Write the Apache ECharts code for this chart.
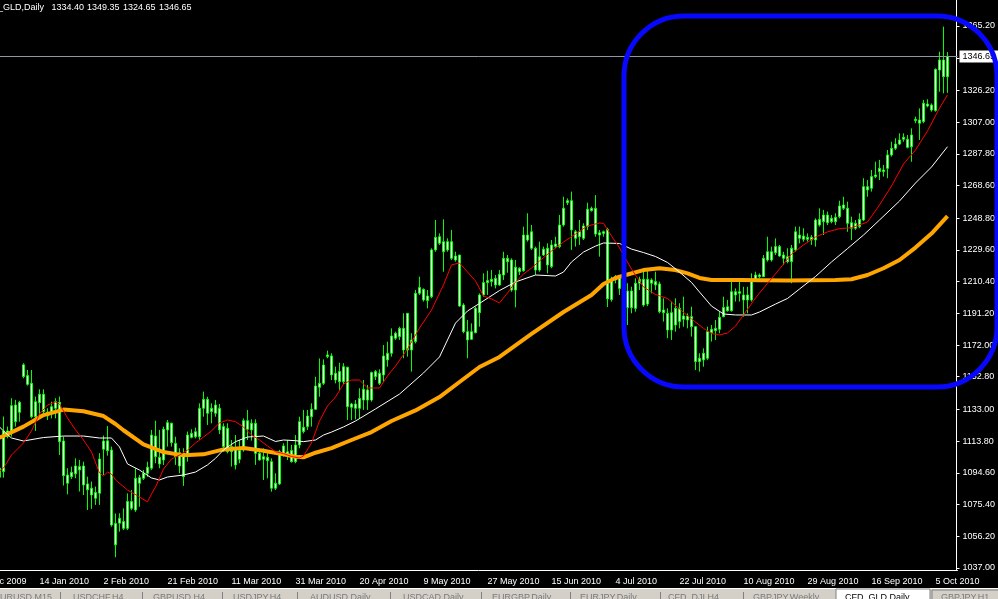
<!DOCTYPE html>
<html><head><meta charset="utf-8">
<script src="https://cdn.jsdelivr.net/npm/echarts@6/dist/echarts.min.js"></script>
<style>html,body{margin:0;padding:0;background:#000;overflow:hidden}#c{width:998px;height:599px}</style>
</head><body><div id="c"></div>
<script>
// ---------------- DATA ----------------
const symbolName = 'CFD_GLD,Daily';
const lastQuote = ['1334.40', '1349.35', '1324.65', '1346.65'];
const lastClose = 1346.65;
// x-axis date labels, one every 16 bars starting at bar -7
const tickLabels = ['24 Dec 2009', '14 Jan 2010', '2 Feb 2010', '21 Feb 2010', '11 Mar 2010', '31 Mar 2010',
  '20 Apr 2010', '9 May 2010', '27 May 2010', '15 Jun 2010', '4 Jul 2010', '22 Jul 2010',
  '10 Aug 2010', '29 Aug 2010', '16 Sep 2010', '5 Oct 2010'];
// y-axis price labels
const yTickLabels = ['1037.00', '1056.20', '1075.40', '1094.60', '1113.80', '1133.00', '1152.80', '1172.00',
  '1191.20', '1210.40', '1229.60', '1248.80', '1268.60', '1287.80', '1307.00', '1326.20', '1345.40', '1365.20'];
// daily bars, bar -1 .. 236 : [open, high, low, close]
const ohlc = [
[1097.5,1099.0,1090.0,1092.0],
[1120.0,1128.7,1091.7,1095.4],[1120.0,1122.6,1115.5,1116.6],[1135.3,1139.8,1116.6,1119.2],[1135.7,1138.8,1122.6,1125.6],[1137.3,1138.2,1125.6,1131.3],
[1160.0,1161.0,1151.9,1152.9],[1153.5,1156.9,1147.4,1148.2],[1148.8,1156.9,1127.6,1128.6],[1137.7,1140.8,1120.0,1128.6],[1142.2,1145.2,1127.6,1137.1],
[1142.2,1145.2,1128.6,1131.7],[1131.3,1133.7,1126.6,1129.1],[1134.7,1137.7,1127.6,1131.3],[1137.7,1139.8,1127.6,1133.7],[1137.3,1140.8,1105.4,1113.5],
[1113.9,1116.6,1086.9,1092.9],[1093.3,1097.4,1081.6,1088.3],[1094.9,1098.4,1090.9,1092.3],[1098.8,1103.4,1091.3,1094.0],[1098.4,1102.4,1083.3,1096.4],
[1098.8,1101.4,1081.2,1087.3],[1087.9,1092.3,1072.1,1084.3],[1085.3,1089.3,1072.8,1081.2],[1082.7,1086.3,1075.2,1079.2],[1103.0,1106.5,1075.2,1082.3],
[1113.9,1117.2,1093.3,1108.9],[1114.0,1123.0,1105.0,1108.0],[1108.4,1110.5,1062.0,1063.0],[1064.0,1070.0,1043.5,1051.0],[1067.1,1070.1,1059.0,1064.1],
[1065.1,1073.1,1060.0,1061.0],[1077.2,1082.2,1060.0,1061.0],[1077.2,1084.2,1072.0,1073.1],[1091.3,1097.4,1071.0,1072.1],[1091.7,1093.3,1074.1,1088.3],
[1094.3,1096.3,1090.3,1091.3],[1098.0,1101.4,1092.3,1094.3],[1117.5,1120.6,1096.4,1097.4],[1116.9,1126.2,1100.4,1104.4],[1104.0,1120.6,1097.4,1100.0],
[1121.0,1122.6,1099.4,1102.4],[1125.0,1126.6,1110.5,1120.6],[1124.6,1125.0,1110.5,1112.9],[1112.5,1116.5,1099.4,1104.4],[1106.8,1109.5,1094.3,1098.8],
[1106.4,1109.5,1086.7,1092.3],[1117.5,1119.6,1101.4,1105.4],[1118.5,1121.0,1115.5,1116.1],[1119.5,1122.0,1115.5,1116.5],[1133.7,1136.7,1114.5,1116.5],
[1139.1,1143.8,1128.6,1133.7],[1139.1,1140.7,1123.6,1130.7],[1133.7,1136.7,1124.6,1131.7],[1135.7,1138.7,1128.6,1130.7],[1133.7,1136.3,1118.1,1120.6],
[1122.6,1124.6,1107.4,1110.5],[1121.6,1124.6,1106.4,1107.4],[1110.5,1114.5,1098.4,1107.4],[1109.5,1117.5,1096.7,1099.4],[1108.1,1114.5,1100.4,1102.8],
[1126.2,1127.6,1107.4,1108.5],[1126.2,1132.7,1114.5,1121.0],[1124.6,1127.0,1114.1,1120.6],[1124.6,1127.0,1099.4,1106.4],[1106.4,1107.4,1102.0,1102.4],
[1104.4,1109.5,1090.3,1102.8],[1104.0,1107.4,1091.3,1102.0],[1101.4,1103.4,1083.2,1085.3],[1088.3,1094.3,1084.2,1085.3],[1107.4,1108.5,1087.3,1087.9],
[1110.9,1112.5,1104.4,1105.4],[1107.4,1114.5,1102.4,1105.4],[1108.1,1111.5,1100.8,1101.4],[1111.5,1117.5,1100.4,1101.4],[1125.6,1128.6,1109.5,1111.5],
[1122.2,1132.7,1118.5,1119.6],[1129.0,1132.7,1120.6,1122.6],[1133.1,1136.7,1122.6,1128.6],[1147.2,1152.8,1132.7,1133.1],[1148.8,1163.9,1140.7,1146.4],
[1159.9,1163.3,1147.8,1148.8],[1166.0,1168.6,1164.0,1165.0],[1165.4,1167.0,1150.8,1153.9],[1154.9,1158.9,1148.8,1150.8],[1155.9,1161.3,1144.8,1149.8],
[1158.9,1161.0,1148.4,1149.8],[1158.5,1158.9,1126.6,1134.7],[1136.3,1137.0,1126.6,1134.3],[1136.3,1138.7,1127.0,1133.7],[1139.7,1145.8,1127.6,1133.7],
[1145.2,1150.8,1132.7,1138.7],[1144.8,1147.8,1132.7,1138.7],[1155.3,1155.9,1137.7,1138.7],[1155.9,1156.9,1150.8,1152.9],[1154.9,1157.3,1147.8,1148.8],
[1165.4,1172.0,1149.8,1153.9],[1167.0,1174.0,1158.9,1163.0],[1177.5,1182.1,1165.0,1167.0],[1179.1,1180.1,1175.1,1176.1],[1182.1,1183.1,1175.1,1177.1],
[1182.1,1191.2,1164.0,1169.0],[1191.2,1191.2,1165.0,1169.0],[1175.1,1179.1,1155.9,1169.0],[1203.3,1205.3,1173.0,1174.1],[1206.9,1213.4,1202.3,1203.3],
[1205.7,1206.3,1198.3,1199.3],[1201.7,1205.3,1194.2,1198.9],[1229.6,1230.6,1200.3,1201.3],[1237.2,1247.7,1228.5,1229.6],[1237.6,1239.6,1232.6,1233.6],
[1234.6,1248.1,1216.4,1228.5],[1234.6,1236.6,1228.5,1229.6],[1234.6,1241.7,1223.5,1224.5],[1225.9,1228.5,1222.5,1223.5],[1226.5,1226.5,1195.2,1195.6],
[1196.2,1197.3,1179.1,1180.1],[1180.1,1187.2,1164.0,1175.1],[1180.1,1185.1,1175.1,1175.5],[1194.2,1195.2,1179.1,1179.5],[1202.3,1203.3,1183.1,1191.6],
[1209.8,1215.4,1201.3,1202.3],[1211.0,1217.0,1202.3,1209.8],[1211.8,1217.4,1207.4,1210.4],[1212.4,1214.4,1206.3,1208.4],[1214.8,1217.4,1207.8,1208.4],
[1224.5,1228.5,1211.4,1214.4],[1224.5,1226.5,1215.8,1222.5],[1223.5,1224.5,1204.3,1205.3],[1219.1,1223.5,1194.8,1205.3],[1218.5,1219.1,1214.4,1216.4],
[1238.6,1243.7,1216.4,1217.0],[1238.6,1251.8,1234.6,1235.6],[1240.6,1244.7,1229.6,1230.6],[1230.6,1231.6,1214.4,1217.4],[1225.5,1234.6,1216.4,1217.4],
[1230.0,1231.6,1225.9,1226.5],[1230.6,1233.6,1215.4,1220.5],[1232.6,1235.6,1218.5,1219.5],[1233.2,1237.6,1230.6,1231.6],[1244.7,1250.8,1230.6,1231.6],
[1254.8,1261.8,1243.7,1244.7],[1259.4,1260.8,1256.8,1258.2],[1259.4,1264.9,1229.6,1241.7],[1240.6,1241.7,1231.6,1236.6],[1240.6,1247.7,1232.6,1237.6],
[1244.1,1245.7,1235.6,1236.6],[1254.2,1258.2,1241.7,1243.7],[1254.8,1255.8,1252.8,1253.4],[1254.8,1262.8,1237.6,1239.2],[1240.0,1241.7,1225.5,1238.6],
[1240.6,1241.3,1237.6,1239.6],[1242.0,1243.0,1195.0,1200.0],[1211.0,1213.4,1198.3,1199.5],[1213.4,1214.4,1209.4,1211.4],[1212.4,1213.4,1202.3,1206.3],
[1207.0,1209.0,1197.0,1201.0],[1204.7,1209.4,1184.1,1194.6],[1204.7,1207.3,1191.2,1194.6],[1209.4,1212.4,1192.2,1194.2],[1211.8,1213.4,1205.3,1209.4],
[1211.8,1216.4,1195.2,1196.2],[1211.8,1217.0,1195.6,1196.8],[1211.4,1212.4,1203.3,1209.4],[1210.4,1216.4,1205.3,1208.4],[1209.0,1210.4,1191.2,1192.2],
[1193.2,1200.3,1186.2,1191.6],[1191.2,1194.2,1176.1,1181.1],[1191.6,1198.3,1175.1,1181.1],[1194.2,1200.3,1180.1,1184.1],[1194.2,1197.3,1182.1,1186.2],
[1189.6,1201.3,1183.1,1187.6],[1189.6,1191.2,1182.1,1187.2],[1189.2,1195.2,1177.1,1183.1],[1183.1,1183.1,1156.9,1162.0],[1164.0,1167.0,1155.9,1162.0],
[1167.0,1170.0,1158.9,1163.0],[1180.1,1183.1,1163.0,1164.0],[1181.5,1184.1,1174.1,1179.5],[1182.1,1187.2,1175.1,1180.7],[1188.8,1192.2,1179.1,1181.5],
[1194.8,1201.3,1188.8,1189.2],[1195.2,1199.3,1192.2,1192.8],[1204.3,1211.4,1192.2,1192.8],[1204.3,1206.3,1198.3,1202.3],[1204.3,1210.4,1198.3,1203.3],
[1202.3,1207.3,1189.2,1199.3],[1202.3,1207.3,1191.2,1199.3],[1211.4,1215.4,1198.3,1199.3],[1214.4,1216.4,1210.4,1211.4],[1214.4,1215.4,1212.4,1213.4],
[1224.5,1226.5,1213.4,1213.4],[1228.5,1237.6,1222.5,1223.5],[1228.5,1231.6,1222.5,1223.5],[1231.6,1236.6,1226.5,1227.9],[1231.6,1232.6,1225.5,1225.9],
[1226.5,1228.5,1220.5,1224.5],[1225.5,1230.6,1221.5,1222.5],[1230.6,1232.6,1209.4,1222.5],[1240.6,1243.7,1228.5,1229.6],[1238.6,1243.7,1233.6,1236.6],
[1238.0,1242.7,1234.6,1236.0],[1237.2,1239.6,1234.6,1236.0],[1237.2,1238.6,1232.6,1235.6],[1247.7,1248.7,1231.6,1235.6],[1248.1,1254.8,1243.7,1244.7],
[1250.7,1253.8,1238.6,1246.7],[1250.7,1252.8,1244.7,1246.1],[1248.7,1250.7,1245.7,1246.7],[1249.3,1251.8,1244.7,1246.7],[1256.2,1259.4,1248.7,1249.7],
[1256.8,1261.8,1253.8,1254.8],[1254.8,1258.8,1240.6,1245.7],[1246.1,1249.7,1235.6,1242.7],[1245.7,1247.7,1241.7,1242.7],[1248.1,1251.8,1242.7,1243.7],
[1267.9,1273.0,1247.0,1247.7],[1267.9,1271.9,1261.8,1265.9],[1274.0,1278.0,1264.9,1266.9],[1275.0,1283.0,1273.0,1274.0],[1279.0,1284.1,1271.9,1277.0],
[1278.0,1281.0,1274.0,1277.0],[1287.1,1290.1,1273.0,1279.0],[1291.1,1295.1,1286.1,1287.1],[1293.7,1297.2,1290.1,1291.1],[1296.2,1300.2,1293.1,1293.7],
[1297.8,1300.2,1295.1,1296.6],[1296.6,1299.2,1291.1,1291.7],[1299.2,1303.2,1283.0,1292.1],[1308.7,1310.3,1306.3,1307.9],[1308.3,1315.3,1296.2,1306.3],
[1318.4,1320.4,1306.3,1307.3],[1317.9,1320.8,1315.9,1316.7],[1317.3,1318.3,1313.3,1314.3],[1338.9,1339.5,1313.3,1314.0],[1344.6,1349.6,1325.4,1338.5],
[1344.6,1364.8,1324.4,1334.5],[1334.40,1349.35,1324.65,1346.65]
];
// moving averages: [bar, value]
const maFast = [[-1,1095.5],[0,1097.5],[2,1105.4],[5,1112.7],[7,1120.0],[9,1130.3],[11,1135.7],[13,1137.5],[14,1136.3],[16,1127.8],[18,1120.6],[20,1114.5],[22,1107.2],[24,1094.5],[25,1092.7],[26,1095.1],[27,1093.9],[28,1090.3],[31,1084.2],[34,1080.0],[36,1077.0],[37,1081.8],[38,1086.0],[40,1096.9],[42,1103.0],[44,1105.4],[46,1108.4],[48,1112.7],[50,1116.3],[52,1120.0],[54,1124.8],[56,1126.6],[58,1125.6],[60,1122.4],[62,1117.5],[64,1114.5],[66,1110.9],[68,1107.4],[70,1106.3],[72,1104.5],[74,1103.6],[75,1104.8],[77,1112.7],[79,1126.0],[81,1135.1],[83,1140.5],[85,1148.4],[87,1150.8],[89,1150.8],[91,1146.0],[94,1146.0],[96,1153.3],[98,1159.3],[101,1169.6],[104,1182.3],[107,1193.2],[110,1208.4],[112,1220.5],[114,1221.7],[116,1216.2],[118,1210.8],[120,1201.7],[122,1199.9],[124,1197.5],[126,1203.5],[128,1210.2],[130,1215.0],[132,1218.6],[134,1222.9],[137,1228.9],[140,1234.4],[143,1239.2],[146,1244.1],[149,1245.9],[150,1245.7],[152,1238.0],[154,1230.8],[157,1218.0],[160,1207.1],[163,1202.6],[166,1200.2],[169,1193.8],[172,1187.8],[175,1182.1],[177,1179.0],[179,1178.1],[181,1179.3],[183,1183.5],[185,1190.2],[188,1200.5],[191,1209.4],[194,1218.0],[197,1227.1],[200,1232.6],[203,1237.4],[206,1240.5],[209,1242.5],[212,1243.0],[216,1246.5],[219,1256.8],[222,1268.3],[225,1281.6],[228,1290.1],[231,1301.6],[234,1315.5],[236,1323.4]];
const maMid = [[-1,1122.4],[0,1120.0],[2,1115.7],[5,1113.9],[10,1116.0],[15,1116.9],[20,1116.9],[24,1115.7],[27,1115.7],[29,1110.3],[31,1100.0],[34,1096.3],[37,1091.5],[39,1090.3],[41,1092.1],[45,1093.3],[48,1095.1],[51,1099.4],[53,1103.4],[55,1108.5],[58,1113.5],[61,1116.3],[65,1116.9],[68,1113.6],[70,1114.5],[73,1114.1],[75,1113.5],[78,1114.5],[80,1117.5],[82,1119.3],[85,1122.4],[88,1126.0],[93,1133.3],[99,1142.3],[105,1155.1],[109,1164.8],[113,1185.3],[116,1192.6],[119,1197.2],[124,1205.0],[128,1210.2],[133,1214.4],[138,1213.8],[140,1216.2],[142,1222.3],[145,1228.3],[148,1231.9],[150,1233.8],[154,1233.5],[157,1230.1],[160,1228.0],[163,1225.6],[166,1222.0],[169,1216.2],[172,1209.9],[174,1204.1],[177,1195.6],[180,1190.8],[183,1190.2],[187,1190.2],[189,1192.0],[193,1196.8],[196,1200.2],[199,1205.9],[203,1213.5],[207,1222.3],[211,1230.4],[215,1238.6],[219,1247.7],[224,1259.2],[228,1270.1],[232,1279.8],[236,1292.1]];
const maSlow = [[-1,1116.0],[0,1116.9],[5,1122.6],[10,1129.6],[15,1132.9],[20,1131.9],[25,1129.0],[28,1124.2],[30,1120.4],[35,1111.8],[40,1107.2],[45,1105.2],[50,1105.8],[55,1108.8],[60,1109.6],[65,1108.0],[70,1105.8],[73,1104.4],[75,1104.0],[78,1106.8],[82,1109.6],[87,1114.5],[92,1119.3],[97,1126.0],[103,1132.4],[109,1140.5],[114,1149.6],[119,1158.7],[124,1164.8],[132,1178.7],[140,1192.0],[147,1202.3],[150,1208.9],[153,1212.6],[156,1214.7],[160,1217.4],[164,1218.5],[168,1217.4],[171,1215.4],[174,1212.6],[177,1211.4],[184,1211.4],[196,1211.0],[208,1211.4],[212,1211.8],[216,1214.4],[220,1218.5],[224,1223.5],[228,1231.0],[232,1239.5],[236,1250.1]];
// terminal tabs at the bottom
const tabNames = ['EURUSD,M15', 'USDCHF,H4', 'GBPUSD,H4', 'USDJPY,H4', 'AUDUSD,Daily', 'USDCAD,Daily',
  'EURGBP,Daily', 'EURJPY,Daily', 'CFD_DJI,H4', 'GBPJPY,Weekly', 'CFD_GLD,Daily', 'GBPJPY,H1'];
const activeTab = 'CFD_GLD,Daily';

// ---------------- LAYOUT ----------------
const FONT = '"Liberation Sans", Arial, sans-serif';
const FS = 9;
const LEAD = 8;            // empty category slots before bar 0
const FIRST_OHLC_BAR = -1; // bar index of ohlc[0]
const FIRST_LABEL_BAR = -7, LABEL_STEP = 16;
const N = LEAD + 239;      // slots up to bar 238 (right shift)
const categories = Array.from({length: N}, (_, j) => String(j - LEAD));
const labelAt = {};
tickLabels.forEach((t, k) => { labelAt[LEAD + FIRST_LABEL_BAR + k * LABEL_STEP] = t; });
const candleData = categories.map((_, j) => {
  const r = ohlc[j - LEAD - FIRST_OHLC_BAR];
  return r ? [r[0], r[3], r[2], r[1]] : ['-', '-', '-', '-'];
});
const toXY = arr => arr.map(p => [p[0] + LEAD, p[1]]);
const tabX = [-6, 73, 153, 233, 310, 403, 492, 580, 668, 753, 845, 941];
const sepX = [60, 142, 222, 297, 390, 481, 570, 660, 743];

const chart = echarts.init(document.getElementById('c'), null, {renderer: 'canvas'});
const graphics = [
  {type: 'text', x: 44, y: 3, z: 100, style: {text: symbolName, fill: '#fff', fontSize: FS, fontFamily: FONT, align: 'right', verticalAlign: 'top'}},
  ...lastQuote.map((q, k) => ({type: 'text', x: [51.5, 87, 123, 159][k], y: 3, z: 100,
    style: {text: q, fill: '#fff', fontSize: FS, fontFamily: FONT, verticalAlign: 'top'}})),
  {type: 'rect', z: 120, shape: {x: 624, y: 16, width: 373, height: 371, r: 60},
    style: {fill: 'none', stroke: '#0808ff', lineWidth: 5}},
  {type: 'rect', z: 110, shape: {x: 0, y: 588, width: 998, height: 11}, style: {fill: '#d4d0c8'}},
  {type: 'line', z: 111, shape: {x1: 0, y1: 588.5, x2: 998, y2: 588.5}, style: {stroke: '#ffffff', lineWidth: 1}},
  {type: 'rect', z: 111, shape: {x: 836, y: 589, width: 94, height: 11}, style: {fill: '#ffffff', stroke: '#808080', lineWidth: 1}},
  {type: 'rect', z: 111, shape: {x: 932, y: 590, width: 70, height: 10}, style: {fill: '#d4d0c8', stroke: '#808080', lineWidth: 1}},
  ...sepX.map(x => ({type: 'line', z: 112, shape: {x1: x + 0.5, y1: 592, x2: x + 0.5, y2: 599}, style: {stroke: '#808080', lineWidth: 1}})),
  ...tabNames.map((t, k) => ({type: 'text', z: 113, x: tabX[k], y: 593,
    style: {text: t, fill: t === activeTab ? '#000' : '#7a7a7a', fontSize: FS, fontFamily: FONT, verticalAlign: 'top'}}))
];

chart.setOption({
  backgroundColor: '#000',
  animation: false,
  grid: {left: -30.5, top: 0, width: 4 * N, height: 570, containLabel: false, outerBoundsMode: 'none'},
  xAxis: {
    type: 'category', data: categories, boundaryGap: true,
    axisLine: {lineStyle: {color: '#fff', width: 1}},
    axisTick: {alignWithLabel: true, length: 4, lineStyle: {color: '#fff'}, interval: i => labelAt[i] !== undefined},
    axisLabel: {interval: i => labelAt[i] !== undefined, formatter: (v, i) => labelAt[i] || '',
      color: '#fff', fontSize: FS, fontFamily: FONT, align: 'left', margin: 7},
    splitLine: {show: false}
  },
  yAxis: {
    type: 'value', position: 'right', offset: -1,
    min: 1035.78, max: 1380.92, scale: true,
    axisLine: {show: true, lineStyle: {color: '#fff', width: 1}},
    axisTick: {show: true, length: 3, inside: false, lineStyle: {color: '#fff'}, customValues: yTickLabels.map(Number)},
    axisLabel: {color: '#fff', fontSize: FS, fontFamily: FONT, margin: 6, customValues: yTickLabels.map(Number),
      formatter: v => v.toFixed(2)},
    splitLine: {show: false}
  },
  graphic: graphics,
  series: [
    {
      type: 'candlestick', name: 'GLD', data: candleData, barWidth: 3, z: 2,
      itemStyle: {color: '#ffffff', color0: '#ffffff', borderColor: '#00ff00', borderColor0: '#00ff00', borderWidth: 1},
      markLine: {
        silent: true, symbol: ['none', 'none'], animation: false,
        lineStyle: {color: '#8f98a6', width: 1, type: 'solid'},
        label: {show: true, position: 'end', distance: 2, formatter: lastQuote[3], color: '#000', backgroundColor: '#fff',
          padding: [2, 6, 1, 3], fontSize: FS, fontFamily: FONT},
        data: [{yAxis: lastClose}]
      }
    },
    {type: 'line', name: 'MA slow', data: toXY(maSlow), showSymbol: false, symbol: 'none', z: 3,
      lineStyle: {color: '#ffa500', width: 4}},
    {type: 'line', name: 'MA mid', data: toXY(maMid), showSymbol: false, symbol: 'none', z: 4,
      lineStyle: {color: '#ffffff', width: 1}},
    {type: 'line', name: 'MA fast', data: toXY(maFast), showSymbol: false, symbol: 'none', z: 5,
      lineStyle: {color: '#ff0000', width: 1}}
  ]
});
</script></body></html>
